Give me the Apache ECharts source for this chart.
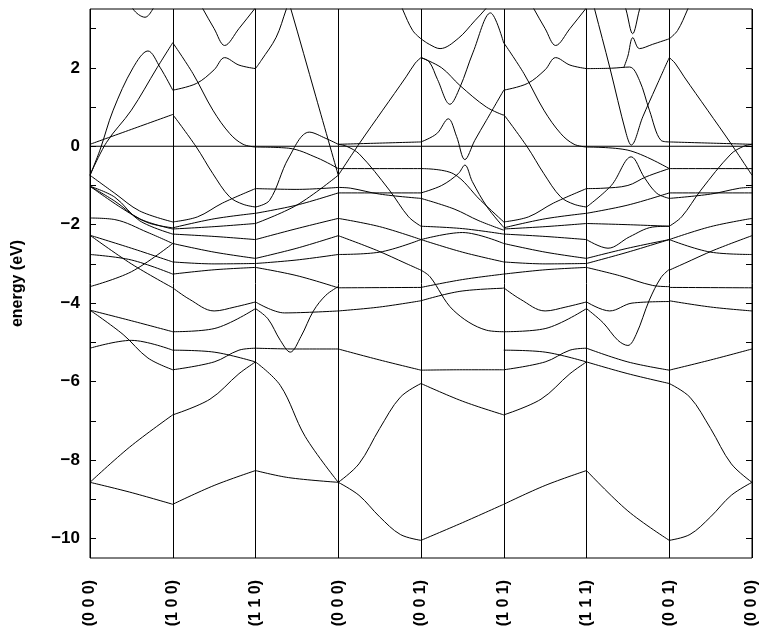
<!DOCTYPE html>
<html>
<head>
<meta charset="utf-8">
<script src="https://cdn.jsdelivr.net/npm/echarts@6/dist/echarts.min.js"></script>
<style>
  html, body { margin: 0; padding: 0; background: #ffffff; }
  #chart { width: 762px; height: 632px; }
</style>
</head>
<body>
<div id="chart"></div>
<script>
// High-symmetry points along the k-path
const kLabels = ['(0 0 0)', '(1 0 0)', '(1 1 0)', '(0 0 0)', '(0 0 1)', '(1 0 1)', '(1 1 1)', '(0 0 1)', '(0 0 0)'];

// Energy axis (eV)
const energyTicks = [-10, -9, -8, -7, -6, -5, -4, -3, -2, -1, 0, 1, 2, 3];
const energyLabels = [-10, -8, -6, -4, -2, 0, 2];
const fermiLevel = 0;

// Bands per path segment: each curve is a list of [t, E] with t in 0..1 along the segment
const segGX = [
  [[0, 0.05], [0.5, 0.43], [1, 0.81]],
  [[0, -0.74], [0.12, -0.1], [0.28, 0.92], [0.52, 2.0], [0.70, 2.43], [0.85, 2.0], [1, 1.43]],
  [[0, -0.74], [0.2, 0.1], [0.5, 0.92], [0.81, 2.0], [1, 2.64]],
  [[0.45, 3.95], [0.52, 3.5], [0.665, 3.29], [0.76, 3.5], [0.85, 3.9]],
  [[0, -0.74], [0.3, -1.2], [0.6, -1.65], [1, -1.93]],
  [[0, -1.02], [0.4, -1.6], [0.7, -1.95], [1, -2.08]],
  [[0, -1.02], [0.3, -1.4], [0.6, -1.85], [1, -2.11]],
  [[0, -1.02], [0.3, -1.3], [0.6, -1.9], [1, -2.24]],
  [[0, -1.83], [0.3, -1.87], [0.7, -2.2], [1, -2.48]],
  [[0, -2.27], [0.5, -2.6], [1, -2.95]],
  [[0, -2.76], [0.5, -2.9], [1, -3.26]],
  [[0, -3.58], [0.5, -3.2], [1, -2.48]],
  [[0, -2.27], [0.5, -3.0], [1, -3.61]],
  [[0, -4.18], [0.5, -4.45], [1, -4.73]],
  [[0, -4.18], [0.4, -4.8], [0.7, -5.4], [1, -5.7]],
  [[0, -5.15], [0.5, -4.95], [1, -5.2]],
  [[0, -8.57], [0.48, -7.67], [1, -6.85]],
  [[0, -8.57], [0.48, -8.82], [1, -9.13]]
];

const segXM = [
  [[0, 2.64], [0.245, 1.85], [0.485, 0.92], [0.69, 0.32], [0.85, 0.05], [1, -0.02]],
  [[0, 1.43], [0.285, 1.6], [0.5, 1.95], [0.627, 2.26], [0.8, 2.07], [1, 1.98]],
  [[0.3, 3.75], [0.365, 3.5], [0.5, 3.0], [0.627, 2.57], [0.8, 3.0], [0.988, 3.5], [1, 3.53]],
  [[0, 0.81], [0.285, -0.02], [0.485, -0.7], [0.687, -1.29], [0.85, -1.48], [1, -1.55]],
  [[0, -1.93], [0.3, -1.8], [0.6, -1.45], [1, -1.08]],
  [[0, -2.08], [0.5, -1.85], [1, -1.71]],
  [[0, -2.11], [0.5, -2.05], [1, -1.97]],
  [[0, -2.24], [0.5, -2.3], [1, -2.38]],
  [[0, -2.48], [0.5, -2.7], [1, -2.86]],
  [[0, -2.95], [0.5, -3.0], [1, -2.99]],
  [[0, -3.26], [0.5, -3.15], [1, -3.09]],
  [[0, -3.61], [0.2, -3.9], [0.5, -4.2], [0.75, -4.1], [1, -3.97]],
  [[0, -4.73], [0.5, -4.65], [1, -4.14]],
  [[0, -5.7], [0.5, -5.5], [0.8, -5.2], [1, -5.15]],
  [[0, -5.2], [0.5, -5.25], [1, -5.5]],
  [[0, -6.85], [0.45, -6.45], [0.8, -5.8], [1, -5.5]],
  [[0, -9.13], [0.5, -8.65], [1, -8.27]]
];

const segMG = [
  [[0, 1.98], [0.07, 2.19], [0.25, 2.78], [0.37, 3.48], [0.40, 3.65], [0.43, 3.48], [0.73, 1.26], [1, -0.74]],
  [[0, -0.02], [0.4, -0.05], [0.75, -0.3], [1, -0.57]],
  [[0, -1.55], [0.17, -1.38], [0.4, -0.3], [0.65, 0.36], [0.85, 0.2], [1, 0.05]],
  [[0, -1.08], [0.5, -1.1], [1, -1.05]],
  [[0, -1.71], [0.5, -1.5], [1, -1.19]],
  [[0, -1.97], [0.5, -1.5], [1, -0.74]],
  [[0, -2.38], [0.5, -2.1], [1, -1.84]],
  [[0, -2.86], [0.5, -2.6], [1, -2.28]],
  [[0, -2.99], [0.5, -2.9], [1, -2.76]],
  [[0, -3.09], [0.5, -3.3], [1, -3.61]],
  [[0, -3.97], [0.35, -4.25], [1, -4.2]],
  [[0, -4.14], [0.15, -4.4], [0.3, -4.95], [0.42, -5.25], [0.55, -4.85], [0.7, -4.2], [0.85, -3.8], [1, -3.58]],
  [[0, -5.15], [0.5, -5.17], [1, -5.17]],
  [[0, -5.5], [0.3, -6.1], [0.6, -7.4], [1, -8.57]],
  [[0, -8.27], [0.4, -8.45], [1, -8.57]]
];

const segGZ = [
  [[0.7, 3.9], [0.78, 3.48], [0.9, 2.95], [1, 2.74]],
  [[0, -0.74], [0.255, 0.07], [0.537, 0.92], [0.82, 1.77], [0.93, 2.12], [1, 2.26]],
  [[0, 0.05], [0.5, 0.08], [1, 0.11]],
  [[0, -0.57], [1, -0.57]],
  [[0, -1.19], [1, -1.19]],
  [[0, -1.05], [0.15, -1.07], [0.5, -1.22], [1, -1.33]],
  [[0, 0.05], [0.1, 0.0], [0.255, -0.2], [0.618, -1.12], [0.85, -1.8], [1, -2.04]],
  [[0, -1.84], [0.5, -2.05], [1, -2.38]],
  [[0, -2.28], [0.46, -2.65], [0.82, -2.99], [1, -3.16]],
  [[0, -2.76], [0.5, -2.7], [1, -2.38]],
  [[0, -3.61], [1, -3.6]],
  [[0, -4.2], [0.5, -4.1], [1, -3.94]],
  [[0, -5.17], [0.5, -5.45], [1, -5.71]],
  [[0, -8.57], [0.25, -8.1], [0.5, -7.2], [0.75, -6.4], [1, -6.05]],
  [[0, -8.57], [0.25, -8.9], [0.5, -9.45], [0.75, -9.9], [1, -10.05]]
];

const segZR = [
  [[0, 2.74], [0.1, 2.6], [0.23, 2.49], [0.45, 2.75], [0.65, 3.2], [0.78, 3.5], [0.85, 3.7]],
  [[0, 2.26], [0.1, 2.15], [0.2, 1.7], [0.35, 1.07], [0.47, 1.5], [0.63, 2.4], [0.84, 3.4], [1, 2.63]],
  [[0, 2.26], [0.25, 2.0], [0.47, 1.55], [0.79, 1.0], [1, 0.79]],
  [[0, 0.11], [0.19, 0.32], [0.33, 0.7], [0.43, 0.25], [0.53, -0.34], [0.65, 0.15], [0.79, 0.66], [1, 1.43]],
  [[0, -0.57], [0.39, -0.7], [0.72, -1.38], [1, -1.93]],
  [[0, -1.19], [0.25, -1.0], [0.45, -0.7], [0.53, -0.48], [0.62, -0.9], [0.8, -1.55], [1, -2.07]],
  [[0, -1.33], [0.4, -1.6], [0.7, -1.9], [1, -2.14]],
  [[0, -2.04], [0.5, -2.1], [1, -2.24]],
  [[0, -2.38], [0.5, -2.7], [1, -2.95]],
  [[0, -2.38], [0.5, -2.2], [1, -2.48]],
  [[0, -3.16], [0.11, -3.33], [0.39, -4.18], [0.79, -4.69], [1, -4.73]],
  [[0, -3.6], [0.5, -3.4], [1, -3.26]],
  [[0, -3.94], [0.47, -3.7], [1, -3.62]],
  [[0, -5.71], [0.5, -5.7], [1, -5.7]],
  [[0, -6.05], [0.5, -6.5], [1, -6.85]],
  [[0, -10.05], [0.5, -9.6], [1, -9.13]]
];

// (1 0 1) -> (1 1 1) carries the same bands as (1 0 0) -> (1 1 0)
const segRA = segXM;

const segAZ = [
  [[0.05, 3.9], [0.1, 3.48], [0.28, 2.02], [0.48, 0.32], [0.54, 0.03], [0.68, 0.75], [0.84, 1.51], [1, 2.26]],
  [[0.4, 4.0], [0.478, 3.48], [0.558, 2.87], [0.64, 3.48], [0.7, 3.9]],
  [[0.45, 2.0], [0.5, 2.3], [0.56, 2.77], [0.64, 2.49], [0.8, 2.6], [1, 2.74]],
  [[0, 1.98], [0.3, 1.99], [0.52, 2.02], [0.64, 1.68], [0.76, 0.92], [0.9, 0.15], [1, 0.11]],
  [[0, -0.02], [0.5, -0.1], [1, -0.57]],
  [[0, -1.55], [0.3, -1.0], [0.54, -0.27], [0.7, -0.8], [0.85, -1.2], [1, -1.33]],
  [[0, -1.08], [0.2, -1.07], [0.5, -1.0], [0.72, -0.78], [1, -0.57]],
  [[0, -1.71], [0.5, -1.5], [1, -1.19]],
  [[0, -1.97], [0.5, -2.0], [1, -2.04]],
  [[0, -2.38], [0.26, -2.6], [0.52, -2.31], [0.8, -2.06], [1, -2.04]],
  [[0, -2.86], [0.5, -2.6], [1, -2.38]],
  [[0, -2.99], [0.5, -2.7], [1, -2.38]],
  [[0, -3.09], [0.4, -3.3], [0.8, -3.55], [1, -3.58]],
  [[0, -3.97], [0.28, -4.2], [0.55, -4.0], [1, -3.96]],
  [[0, -4.14], [0.2, -4.5], [0.38, -4.95], [0.5, -5.08], [0.6, -4.8], [0.76, -3.92], [0.9, -3.35], [1, -3.14]],
  [[0, -5.15], [0.5, -5.5], [1, -5.71]],
  [[0, -5.5], [0.5, -5.8], [1, -6.05]],
  [[0, -8.27], [0.5, -9.3], [1, -10.05]]
];

// (0 0 1) -> (0 0 0) retraces (0 0 0) -> (0 0 1) backwards
const segZG = segGZ.map(c => c.map(([t, e]) => [1 - t, e]).reverse());

const path = [segGX, segXM, segMG, segGZ, segZR, segRA, segAZ, segZG];

const bandStyle = { color: '#000', width: 1 };
const series = [];
path.forEach((seg, i) => {
  seg.forEach(curve => {
    series.push({
      type: 'line',
      data: curve.map(([t, e]) => [i + t, e]),
      smooth: 0.35,
      showSymbol: false,
      symbol: 'none',
      silent: true,
      clip: true,
      lineStyle: bandStyle
    });
  });
});
// Fermi level
series.push({
  type: 'line',
  data: [[0, fermiLevel], [kLabels.length - 1, fermiLevel]],
  showSymbol: false, symbol: 'none', silent: true,
  lineStyle: { color: '#000', width: 1 }
});

const font = 'Liberation Sans, Arial, Helvetica, sans-serif';
const fmtE = v => (v < 0 ? '\u2212' + Math.abs(v) : String(v));

const chart = echarts.init(document.getElementById('chart'), null, { renderer: 'canvas' });
chart.setOption({
  animation: false,
  backgroundColor: '#ffffff',
  grid: { left: 90, right: 10, top: 9, bottom: 74, show: true, borderColor: '#000', borderWidth: 1, containLabel: false },
  xAxis: {
    type: 'value', min: 0, max: kLabels.length - 1, interval: 1,
    axisLine: { show: false },
    axisTick: { show: false },
    splitLine: { show: true, lineStyle: { color: '#000', width: 1 } },
    axisLabel: {
      rotate: 90, margin: 22,
      fontFamily: font, fontWeight: 'bold', fontSize: 16, color: '#000',
      formatter: v => kLabels[Math.round(v)]
    }
  },
  yAxis: [
    {
      type: 'value', min: -10.5, max: 3.5, position: 'left',
      name: 'energy (eV)', nameLocation: 'middle', nameGap: 64, nameRotate: 90,
      nameTextStyle: { fontFamily: font, fontWeight: 'bold', fontSize: 16, color: '#000' },
      axisLine: { show: false },
      splitLine: { show: false },
      axisTick: { show: true, inside: true, length: 6, customValues: energyTicks, lineStyle: { color: '#000' } },
      axisLabel: {
        margin: 10, customValues: energyLabels,
        fontFamily: font, fontWeight: 'bold', fontSize: 17, color: '#000',
        formatter: fmtE
      }
    },
    {
      type: 'value', min: -10.5, max: 3.5, position: 'right',
      axisLine: { show: false },
      splitLine: { show: false },
      axisTick: { show: true, inside: true, length: 6, customValues: energyTicks, lineStyle: { color: '#000' } },
      axisLabel: { show: false }
    }
  ],
  series: series
});
</script>
</body>
</html>
